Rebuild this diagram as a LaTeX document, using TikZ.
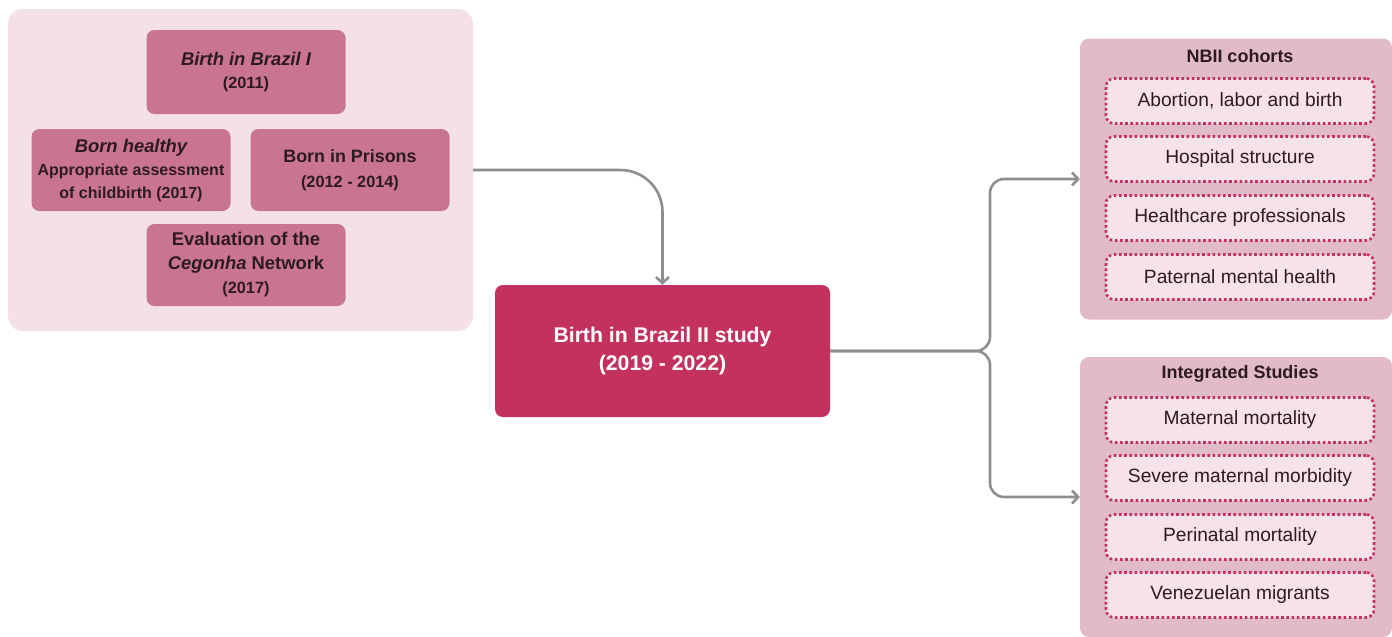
\documentclass[tikz,border=0pt]{standalone}
\usepackage{fontspec}
\setmainfont{Liberation Sans}
\usepackage{tikz}
\usetikzlibrary{positioning}
\usetikzlibrary{arrows.meta}
\pgfdeclarelayer{background}
\pgfdeclarelayer{foreground}
\pgfsetlayers{background,main,foreground}

\definecolor{panelpink}{HTML}{F4E1E8}
\definecolor{studypink}{HTML}{C97592}
\definecolor{grouppink}{HTML}{E1BCC8}
\definecolor{itempink}{HTML}{F5E3E9}
\definecolor{mainpink}{HTML}{C3315F}
\definecolor{darktext}{HTML}{2E1A21}
\definecolor{linegray}{HTML}{8E8E8E}

\newcommand{\fsbig}{\fontsize{18.4}{23}\selectfont}
\newcommand{\fssmall}{\fontsize{16.3}{23}\selectfont}
\newcommand{\fsmid}{\fontsize{16}{23}\selectfont}

\begin{document}
\begin{tikzpicture}[x=1pt,y=-1pt,
						panelnode/.style={rectangle, rounded corners=15pt, fill=panelpink, inner sep=0pt},
						studynode/.style={rectangle, rounded corners=8pt, fill=studypink, text=darktext, font=\bfseries\fontsize{16}{23}\selectfont, align=center, inner sep=0pt, minimum width=199pt},
						groupnode/.style={rectangle, rounded corners=9pt, fill=grouppink, inner sep=0pt, minimum width=312pt},
						titlenode/.style={text=darktext, font=\bfseries\fontsize{18}{20}\selectfont, inner sep=0pt},
						itemnode/.style={rectangle, rounded corners=8pt, fill=itempink, draw=mainpink, line width=2.6pt, dash pattern=on 2.6pt off 2.6pt, text=darktext, font=\fontsize{19.2}{22}\selectfont, minimum width=268pt, minimum height=45pt, inner sep=0pt},
						mainnode/.style={rectangle, rounded corners=8pt, fill=mainpink, text=white, font=\bfseries\fontsize{21.2}{28}\selectfont, align=center, minimum width=335pt, minimum height=132pt, inner sep=0pt},
						link/.style={draw=linegray, line width=2.6pt, -{Straight Barb[length=6pt,width=13pt]}},
						]
						\useasboundingbox (0,0) rectangle (1392,637);
						%Groups
						\node[panelnode, minimum width=465pt, minimum height=322pt] (panel) at (240.5,170) {};
						\node[groupnode, minimum height=281pt] (cohorts) at (1236,179) {};
						\node[groupnode, minimum height=280pt] (integrated) at (1236,497) {};
						%Nodes
						\node[studynode, minimum height=84pt] (bbi) at (246,72) {\fsbig\itshape Birth in Brazil I\\ \fssmall (2011)};
						\node[studynode, minimum height=82pt] (healthy) at (131,170) {\fsbig\itshape Born healthy\\ \fsmid Appropriate assessment\\ \fsmid of childbirth (2017)};
						\node[studynode, minimum height=82pt, font=\bfseries\fontsize{16}{25}\selectfont] (prisons) at (350,170) {\fontsize{17.9}{25}\selectfont Born in Prisons\\ \fssmall (2012 - 2014)};
						\node[studynode, minimum height=82pt, font=\bfseries\fontsize{16}{24}\selectfont] (cegonha) at (246,265) {\fsbig Evaluation of the\\ \fsbig\textit{Cegonha} Network\\ \fssmall (2017)};
						\node[mainnode] (bbii) at (662.5,351) {Birth in Brazil II study\\ (2019 - 2022)};
						\node[titlenode] (cohortstitle) at (1240,56) {NBII cohorts};
						\node[itemnode] (abortion) at (1240,101) {Abortion, labor and birth};
						\node[itemnode] (hospital) at (1240,159) {Hospital structure};
						\node[itemnode] (professionals) at (1240,218) {Healthcare professionals};
						\node[itemnode] (paternal) at (1240,277) {Paternal mental health};
						\node[titlenode] (integratedtitle) at (1240,374) {Integrated Studies};
						\node[itemnode] (maternal) at (1240,420) {Maternal mortality};
						\node[itemnode] (morbidity) at (1240,478) {Severe maternal morbidity};
						\node[itemnode] (perinatal) at (1240,537) {Perinatal mortality};
						\node[itemnode] (migrants) at (1240,595) {Venezuelan migrants};
						\coordinate (fork) at (990,351);
						%Lines
						\draw[link, rounded corners=42pt] (panel.east) -| (bbii.north);
						\draw[link, rounded corners=14pt] (bbii.east) -- (fork) |- (cohorts.west);
						\draw[link, rounded corners=14pt] (bbii.east) -- (fork) |- (integrated.west);
					\end{tikzpicture}
\end{document}
